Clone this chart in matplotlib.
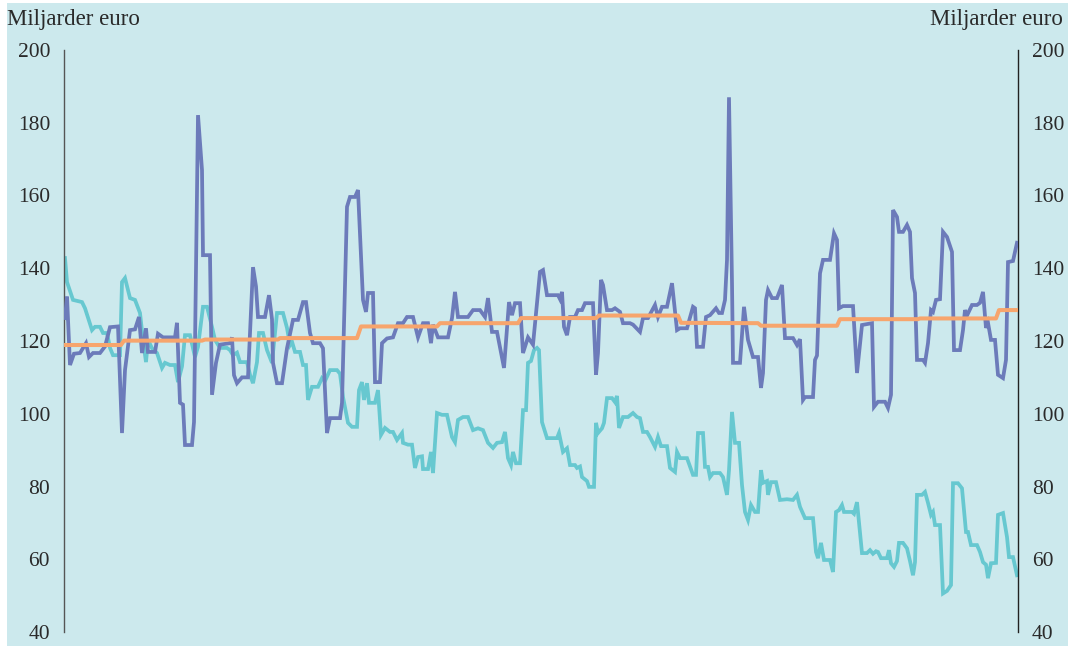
import matplotlib.pyplot as plt
from matplotlib.patches import Rectangle

# week index (approx), values in billions of euro
blue_t = [0.25, 0.75, 1.5, 2.5, 4, 5.5, 6.25, 7.25, 9, 10.25, 11.5, 13.5, 14.5, 15.25, 16.5, 17.75,
          18.75, 19.5, 20.5, 21, 22.75, 23.5, 24.75, 27.75, 28.25, 29, 29.75, 30.25, 32, 32.5, 33.5,
          34.5, 34.75, 36.5, 37, 38, 39, 41.5, 42, 42.5, 43.25, 44.5, 46, 47.25, 48, 48.5, 50.25,
          51.25, 52, 52.25, 53.25, 54.5, 55.75, 57.25, 58.5, 59.75, 60.5, 61.5, 62.25, 64, 64.75,
          65.75, 66.5, 69, 69.5, 70.75, 71.5, 72.75, 73.5, 74.75, 75.5, 76, 77.25, 77.75, 79, 79.5,
          80.75, 82.25, 83.5, 84.75, 85.75, 87.25, 88.5, 89.75, 91, 91.75, 92.25, 93.5, 96, 97,
          97.75, 98.5, 101, 102.25, 104, 105.25, 106, 107, 108.25, 110, 111.25, 112, 112.75, 114,
          114.75, 116, 117.25, 119, 119.75, 120.75, 123.5, 124, 124.5, 125, 125.75, 126.5, 127.75,
          128.5, 129.5, 130.25, 132.25, 133, 133.5, 134.25, 134.75, 135.75, 137, 137.75, 139,
          139.75, 141.5, 142.25, 144, 144.75, 146, 147.75, 148.5, 149.5, 150.75, 152, 153.25, 154,
          155.75, 157.25, 157.75, 158.25, 159.75, 160.5, 161.5, 163, 163.75, 164.5, 165.25, 165.75,
          166.25, 167, 167.25, 169, 170, 171, 172.25, 173.5, 174.25, 174.75, 175.5, 176, 177,
          178.25, 179.5, 180.25, 182.25, 183.25, 184, 184.75, 185.25, 187.25, 187.75, 188.25, 189,
          189.75, 191.5, 192.5, 193.25, 193.75, 194.75, 197.25, 198.25, 199.5, 202, 202.5, 203.5,
          205.25, 206, 206.75, 207.25, 208.25, 208.75, 209.75, 210.75, 211.5, 212, 212.75, 213.25,
          214.75, 215.25, 216, 216.75, 217.25, 218, 219, 219.75, 220.75, 222, 222.5, 224, 224.75,
          225.25, 225.75, 227, 228.25, 229, 229.75, 230.5, 231, 231.75, 232.75, 233.5, 234.75,
          235.5, 236, 237.25, 238.25]
blue_v = [126.3, 132.2, 113.4, 116.5, 116.7, 119.4, 115.6, 116.7, 116.7, 118.5, 123.8, 124, 94.7, 112,
          123, 123.2, 126.6, 116.7, 123.5, 117, 117, 122, 121, 121, 125, 103, 102.5, 91.4, 91.4, 97.7,
          182.1, 167, 143.6, 143.6, 105.2, 114, 119, 119.4, 121, 110.6, 108.4, 110, 110, 140.3, 135,
          126.6, 126.6, 132.6, 126, 114, 108.4, 108.4, 118, 125.8, 125.8, 130.7, 130.7, 122.2, 119.4,
          119.4, 118, 94.7, 98.8, 98.8, 103, 156.9, 159.6, 159.6, 161.5, 131.3, 128, 133.2, 133.2,
          108.7, 108.7, 119.4, 120.7, 121, 124.9, 124.9, 126.6, 126.6, 121, 124.9, 124.9, 119.4,
          124.5, 121, 121, 126.3, 133.5, 126.6, 126.6, 128.5, 128.5, 126.6, 131.8, 122.5, 122.5,
          112.6, 130.7, 127.1, 130.4, 130.4, 116.7, 121, 119, 139, 139.5, 132.6, 132.6, 131.5, 133.5,
          123.9, 121.6, 126.6, 126.6, 128.5, 128.5, 130.4, 130.4, 110.7, 116.7, 136.8, 135.4, 128.5,
          128.5, 129, 128, 124.9, 124.9, 124.5, 122.5, 126.3, 126.3, 129.9, 126.6, 129.4, 129.4,
          135.9, 123, 123.5, 123.5, 129.4, 129, 118.4, 118.4, 126.6, 127.1, 129, 127.7, 127.7, 131.3,
          142.3, 187, 136, 114, 114, 129.4, 120.3, 115.6, 115.6, 107.1, 111.2, 131.3, 134, 131.8,
          131.8, 135.4, 120.8, 120.8, 118.9, 120.5, 103.8, 104.6, 104.6, 114.8, 116, 138.6, 142.3,
          142.3, 149.6, 147.8, 129, 129.6, 129.6, 111.2, 124.4, 124.9, 101.9, 103.3, 103.3, 101.6,
          105.2, 156, 154.1, 150, 150, 151.9, 150, 137.3, 133.2, 114.8, 114.8, 114, 119.4, 128.5,
          128, 131.3, 131.5, 150, 148.6, 144.5, 117.5, 117.5, 123, 128.5, 127, 129.9, 129.9, 130.5,
          133.5, 123.6, 125, 120.3, 120.3, 110.7, 109.8, 114.8, 141.7, 142, 147]

cyan_t = [0.25, 0.75, 2.25, 4.5, 5.25, 7, 7.75, 9, 9.75, 10.75, 11.5, 12.25, 14, 14.5, 15.25, 16.5,
          17.75, 19, 19.75, 20.5, 21, 22, 23.25, 24.5, 25.25, 26.5, 27.75, 28.5, 29.5, 30.25, 31.5,
          32.75, 33.5, 34.75, 35.75, 37, 37.75, 39, 40.75, 41.5, 42.25, 43.25, 44, 45.75, 46.5,
          47.25, 48.25, 48.75, 49.75, 50.75, 52, 53.25, 54.75, 55.75, 56.5, 57, 57.75, 59, 59.75,
          60.5, 61, 62, 63.5, 64.5, 65.25, 66.5, 68.25, 69, 69.75, 71, 72, 73.25, 73.75, 74.5, 75,
          75.75, 76.25, 77.75, 78.5, 79.25, 80.25, 81.5, 82.25, 83.25, 84.5, 84.75, 86, 87, 87.75,
          88.5, 89.5, 89.75, 91, 91.75, 92.25, 93.25, 94.5, 95.75, 97, 97.75, 98.5, 99.75, 101,
          102.25, 103.5, 104.75, 106, 107.25, 108.25, 109.5, 110.25, 111, 111.75, 112.25, 113, 114,
          114.75, 115.5, 116, 116.75, 117.5, 118.25, 118.75, 119.5, 120.75, 123.25, 123.75, 124.75,
          125.75, 126.5, 127.75, 128.25, 129, 129.5, 130.75, 131.25, 132.5, 133, 133.5, 134.5, 135,
          135.75, 137, 137.75, 138.25, 138.75, 139.75, 141, 142.25, 143.25, 144, 144.75, 145.75,
          146.5, 147.75, 148.5, 149.25, 150.75, 151.5, 152.75, 153.25, 154, 155.75, 157.25, 158,
          158.5, 159.75, 160.25, 161, 161.5, 162.25, 164, 164.75, 165.75, 166.25, 167, 167.75,
          168.75, 169.5, 170.25, 171, 171.75, 172.75, 173.5, 174.25, 174.75, 175.75, 176, 176.75,
          178, 179, 180.75, 182.25, 183.25, 184, 185.25, 187.25, 188, 188.5, 189.25, 190, 191.5,
          192.25, 193, 193.75, 194.5, 195, 197, 197.5, 198.25, 199.5, 200.75, 201.5, 202.25, 203,
          203.5, 204.25, 205.75, 206.25, 206.75, 207.5, 208.25, 208.75, 209.75, 210.75, 211.5,
          212.25, 212.75, 213.25, 214.5, 215.25, 216, 216.75, 217.25, 217.75, 219, 219.75, 220.75,
          221.75, 222.25, 223.5, 224.5, 225.5, 226, 226.75, 228.25, 229, 229.75, 230.5, 231,
          231.75, 233, 233.5, 234.75, 235.75, 236.25, 237.25, 238.25]
cyan_v = [142.8, 136.2, 131.3, 130.7, 129, 123, 123.9, 123.9, 122.2, 122.2, 118.1, 116.1, 116.1, 136.2,
          137.3, 131.8, 131.3, 127.7, 120.3, 114.2, 120.3, 118, 116.7, 112.6, 114, 113.4, 113.4, 108.7,
          113, 121.6, 121.6, 115.6, 118.4, 129.4, 129.4, 123.9, 120.3, 118.1, 118.1, 117.5, 116.1,
          116.8, 114.2, 114.2, 110.7, 108.4, 114.2, 122.2, 122.2, 117.5, 114, 127.7, 127.7, 123.6,
          118.9, 119.8, 117, 117, 113.4, 113.4, 103.8, 107.4, 107.4, 109.8, 109, 112, 112, 111, 104.6,
          97.5, 96.4, 96.4, 106.5, 108.7, 103.8, 108.4, 103, 103, 106.5, 94.2, 96.1, 95, 95, 92.8,
          94.7, 92, 91.5, 91.5, 85.1, 88.1, 88.3, 84.8, 84.8, 89.5, 83.7, 100.2, 99.7, 99.7, 93.6,
          92.2, 98.3, 99.1, 99.1, 95.5, 96, 95.5, 92, 90.6, 92, 92.2, 95, 87.8, 85.9, 89.5, 86.4,
          86.4, 101, 101, 114, 114.5, 117.5, 118.1, 117.5, 97.7, 93.3, 93.3, 94.7, 89.5, 90.5, 85.9,
          85.9, 85.1, 85.5, 82.6, 81.5, 79.9, 79.9, 97.5, 94.7, 96, 97.5, 104.3, 104.3, 103.2, 104.9,
          96.1, 99.1, 99.1, 100.2, 99.1, 98.8, 95, 95, 93.6, 90.9, 93.6, 91.1, 91.1, 85.1, 84, 89.5,
          87.8, 87.8, 83.2, 83.2, 94.7, 94.7, 85.4, 85.4, 82.6, 83.7, 83.7, 82.6, 77.7, 84.5, 100.5,
          92, 92, 80.4, 73, 70.8, 74.9, 73, 73, 84.5, 81, 81.5, 77.7, 81.2, 81.2, 76.3, 76.5, 76.3,
          77.7, 74.4, 71.3, 71.3, 62, 60.3, 64.5, 59.8, 59.8, 56.5, 73, 73.5, 74.9, 73, 73, 72.5,
          75.7, 61.7, 61.7, 62.5, 61.5, 62.2, 62, 60.3, 60.3, 62.5, 58.9, 57.9, 59.5, 64.5, 64.5,
          63, 59.5, 55.6, 59.2, 77.7, 77.7, 78.5, 75.5, 72.2, 73, 69.4, 69.4, 50.6, 51.3, 52.9,
          80.9, 80.9, 79.5, 67.5, 67.5, 63.9, 63.9, 62, 59.2, 58.5, 54.8, 58.9, 59, 72.2, 72.7,
          66.1, 60.6, 60.6, 55.6]

orange_t = [0, 14.25, 15, 34.5, 35.25, 53.5, 54, 73.25, 74.25, 93.25, 94, 113.5, 114.25, 133, 133.75,
            153.5, 154.25, 173.5, 174.25, 193.25, 194, 213.5, 214, 233, 233.75, 238.5]
orange_v = [118.9, 118.9, 120.1, 120.1, 120.4, 120.4, 120.8, 120.8, 124.0, 124.0, 124.9, 124.9, 126.3,
            126.3, 127.0, 127.0, 125.0, 124.9, 124.2, 124.2, 126.0, 126.0, 126.2, 126.2, 128.5, 128.5]

y_ticks = [40, 60, 80, 100, 120, 140, 160, 180, 200]
unit_label = "Miljarder euro"

bg = "#cce9ed"
plt.rcParams['font.family'] = ['Liberation Serif', 'DejaVu Serif']

fig = plt.figure(figsize=(10.68, 6.46), dpi=100, facecolor="white")
fig.patches.append(Rectangle((7 / 1068, 0), 1 - 7 / 1068, 643 / 646, transform=fig.transFigure,
                             facecolor=bg, edgecolor="none", zorder=-10))
ax = fig.add_axes([64 / 1068, 14 / 646, 954 / 1068, 582 / 646])
ax.patch.set_visible(False)

ax.plot(blue_t, blue_v, color="#6c7bba", lw=2.7, solid_joinstyle="miter", zorder=3)
ax.plot(cyan_t, cyan_v, color="#67c8d0", lw=2.7, solid_joinstyle="miter", zorder=2)
ax.plot(orange_t, orange_v, color="#f7a56d", lw=2.9, zorder=4)

ax.set_xlim(0, 238.5)
ax.set_ylim(40, 200)
ax.set_yticks(y_ticks)
ax.set_xticks([])
ax.tick_params(axis="y", length=0, labelsize=15.5, colors="#2a2a2a", pad=10,
               labelleft=True, labelright=True)
for s in ["top", "bottom"]:
    ax.spines[s].set_visible(False)
ax.spines["left"].set_color("#555555")
ax.spines["right"].set_color("#222222")
ax.spines["left"].set_linewidth(1.0)
ax.spines["right"].set_linewidth(1.0)

fig.text(7 / 1068, 1 - 20 / 646, unit_label, fontsize=16.5, ha="left", va="center", color="#2a2a2a")
fig.text(1063 / 1068, 1 - 20 / 646, unit_label, fontsize=16.5, ha="right", va="center", color="#2a2a2a")

fig.savefig("out.png", dpi=100, facecolor=fig.get_facecolor())
